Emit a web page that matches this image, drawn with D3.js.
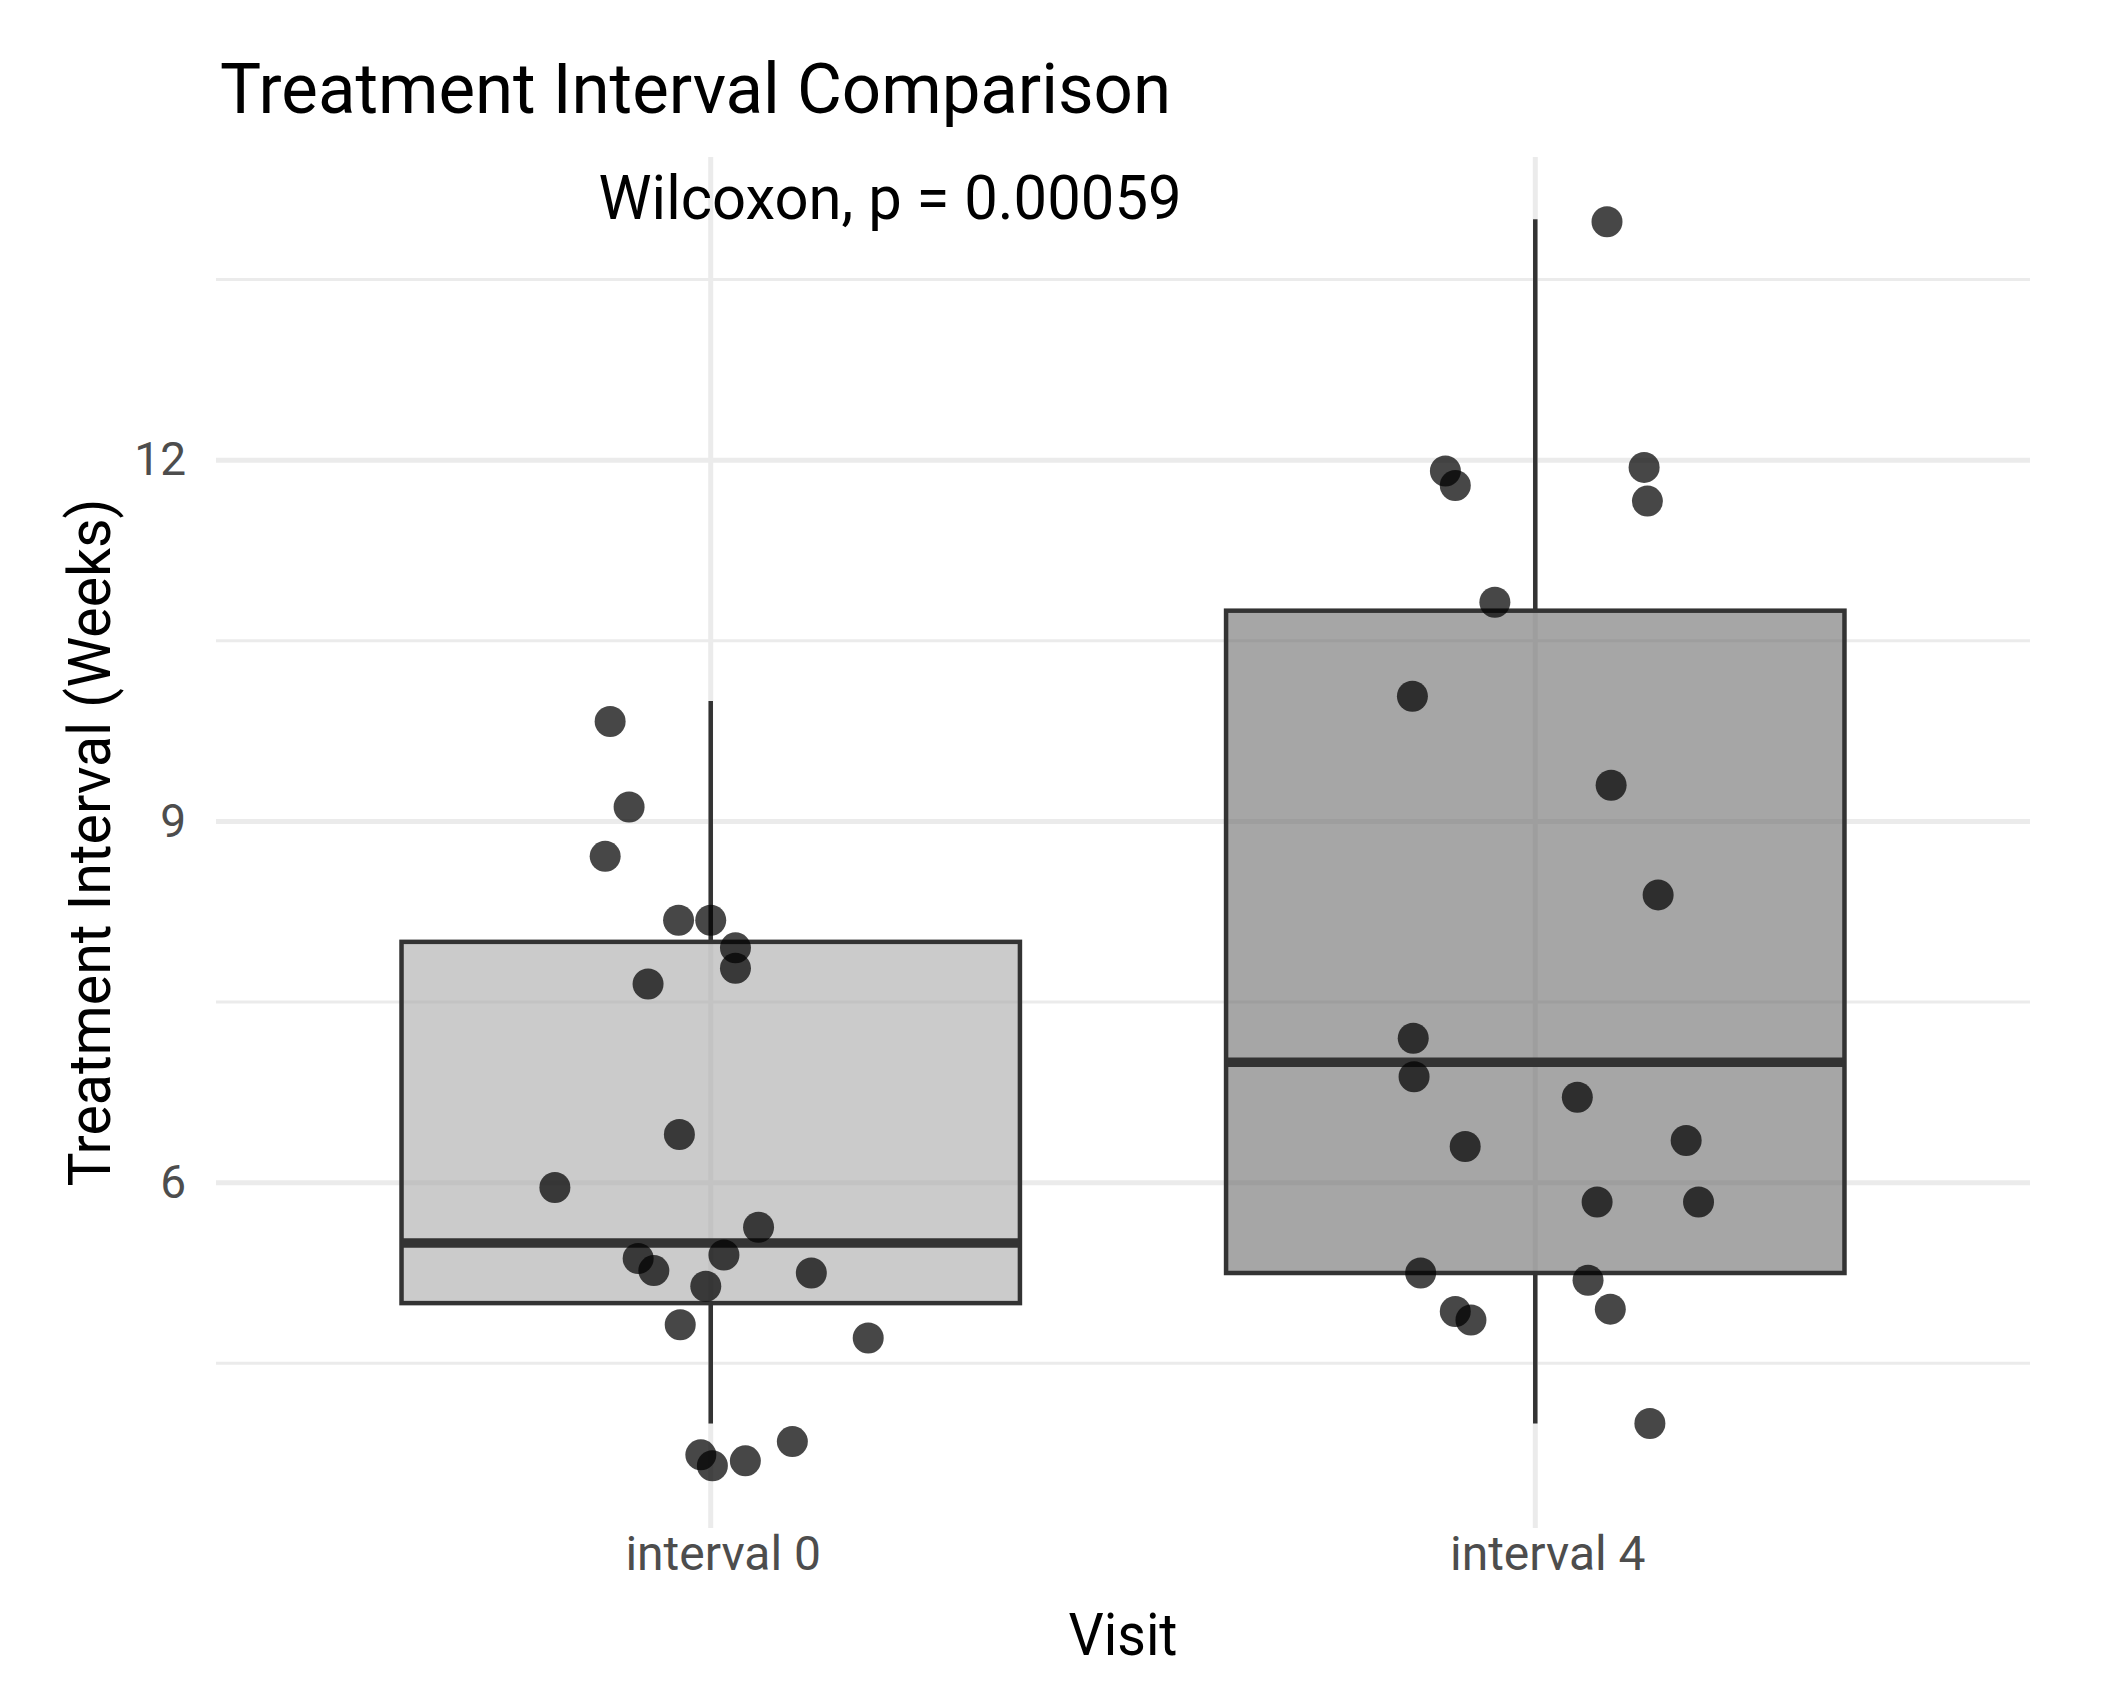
<!DOCTYPE html>
<html>
<head>
<meta charset="utf-8">
<script src="https://cdn.jsdelivr.net/npm/d3@7"></script>
<style>
  body { margin: 0; background: #fff; }
  svg text { font-family: Roboto, "Liberation Sans", sans-serif; }
</style>
</head>
<body>
<div id="chart"></div>
<script>
// groups on the x axis
var groups = ["interval 0", "interval 4"];

// boxplot summaries
var whiskerLow = [4.0, 4.0];
var boxQ1 = [5.0, 5.25];
var boxMedian = [5.5, 7.0];
var boxQ3 = [8.0, 10.75];
var whiskerHigh = [10.0, 14.0];
var boxFill = ["#a8a8a8", "#6b6b6b"];

// jittered observations (value in weeks, horizontal jitter in group units)
var interval0Values = [9.83, 9.12, 8.71, 8.18, 8.18, 7.95, 7.78, 7.65, 6.40, 5.96, 5.63,
                       5.37, 5.27, 5.40, 5.25, 5.14, 4.82, 4.71, 3.85, 3.74, 3.65, 3.69];
var interval0Jitter = [-0.122, -0.099, -0.128, -0.039, 0.000, 0.030, 0.030, -0.076, -0.038, -0.189, 0.058,
                       -0.088, -0.069, 0.016, 0.122, -0.006, -0.037, 0.191, 0.099, -0.012, 0.002, 0.042];
var interval4Values = [13.98, 11.91, 11.79, 11.94, 11.66, 10.82, 10.04, 9.30, 8.39, 7.20, 6.88,
                       6.71, 6.30, 6.35, 5.84, 5.84, 5.25, 5.19, 4.93, 4.86, 4.95, 4.00];
var interval4Jitter = [0.087, -0.109, -0.097, 0.132, 0.136, -0.049, -0.149, 0.092, 0.149, -0.148, -0.147,
                       0.051, -0.085, 0.183, 0.075, 0.198, -0.139, 0.064, -0.097, -0.078, 0.091, 0.139];

var yTicks = [6, 9, 12];
var yMinorTicks = [4.5, 7.5, 10.5, 13.5];

var width = 2104, height = 1692;
var margin = {top: 157, right: 74, bottom: 164, left: 216};

var svg = d3.select("#chart").append("svg")
    .attr("width", width)
    .attr("height", height);

var points = [];
interval0Values.forEach(function(v, i) { points.push({g: 0, v: v, j: interval0Jitter[i]}); });
interval4Values.forEach(function(v, i) { points.push({g: 1, v: v, j: interval4Jitter[i]}); });

var boxes = groups.map(function(g, i) {
    return {g: i, lo: whiskerLow[i], q1: boxQ1[i], med: boxMedian[i], q3: boxQ3[i], hi: whiskerHigh[i]};
});

// ggplot style: discrete x with 0.6 expansion, continuous y with 5% expansion
var x = d3.scaleLinear()
    .domain([0.4, groups.length + 0.6])
    .range([margin.left, width - margin.right]);

var lo = d3.min(points.concat(boxes), function(d) { return d.v !== undefined ? d.v : d.lo; });
var hi = d3.max(points.concat(boxes), function(d) { return d.v !== undefined ? d.v : d.hi; });
var pad = (hi - lo) * 0.05;
var y = d3.scaleLinear()
    .domain([lo - pad, hi + pad])
    .range([height - margin.bottom, margin.top]);

var grid = svg.append("g");
grid.selectAll(".minor")
    .data(yMinorTicks)
    .enter().append("line")
    .attr("x1", x.range()[0]).attr("x2", x.range()[1])
    .attr("y1", function(d) { return y(d); }).attr("y2", function(d) { return y(d); })
    .attr("stroke", "#ebebeb").attr("stroke-width", 3);
grid.selectAll(".major")
    .data(yTicks)
    .enter().append("line")
    .attr("x1", x.range()[0]).attr("x2", x.range()[1])
    .attr("y1", function(d) { return y(d); }).attr("y2", function(d) { return y(d); })
    .attr("stroke", "#ebebeb").attr("stroke-width", 5);
grid.selectAll(".vert")
    .data(groups)
    .enter().append("line")
    .attr("x1", function(d, i) { return x(i + 1); }).attr("x2", function(d, i) { return x(i + 1); })
    .attr("y1", y.range()[0]).attr("y2", y.range()[1])
    .attr("stroke", "#ebebeb").attr("stroke-width", 5);

// boxes
var bw = 0.75 / 2;
var bx = svg.append("g").selectAll("g")
    .data(boxes)
    .enter().append("g");

bx.append("line")
    .attr("x1", function(d) { return x(d.g + 1); }).attr("x2", function(d) { return x(d.g + 1); })
    .attr("y1", function(d) { return y(d.q3); }).attr("y2", function(d) { return y(d.hi); })
    .attr("stroke", "#333").attr("stroke-width", 4.5);
bx.append("line")
    .attr("x1", function(d) { return x(d.g + 1); }).attr("x2", function(d) { return x(d.g + 1); })
    .attr("y1", function(d) { return y(d.q1); }).attr("y2", function(d) { return y(d.lo); })
    .attr("stroke", "#333").attr("stroke-width", 4.5);
bx.append("rect")
    .attr("x", function(d) { return x(d.g + 1 - bw); })
    .attr("width", function(d) { return x(d.g + 1 + bw) - x(d.g + 1 - bw); })
    .attr("y", function(d) { return y(d.q3); })
    .attr("height", function(d) { return y(d.q1) - y(d.q3); })
    .attr("fill", function(d) { return boxFill[d.g]; })
    .attr("fill-opacity", 0.6)
    .attr("stroke", "#333").attr("stroke-width", 4.5);
bx.append("line")
    .attr("x1", function(d) { return x(d.g + 1 - bw); }).attr("x2", function(d) { return x(d.g + 1 + bw); })
    .attr("y1", function(d) { return y(d.med); }).attr("y2", function(d) { return y(d.med); })
    .attr("stroke", "#333").attr("stroke-width", 9.5);

// jittered points
svg.append("g").selectAll("circle")
    .data(points)
    .enter().append("circle")
    .attr("cx", function(d) { return x(d.g + 1 + d.j); })
    .attr("cy", function(d) { return y(d.v); })
    .attr("r", 15.5)
    .attr("fill", "#000")
    .attr("fill-opacity", 0.72);

// axes
var yAxis = svg.append("g")
    .attr("transform", "translate(" + x.range()[0] + ",0)")
    .call(d3.axisLeft(y).tickValues(yTicks).tickSize(0).tickPadding(30));
yAxis.select(".domain").remove();
yAxis.selectAll("text")
    .attr("font-size", 46).attr("fill", "#4d4d4d")
    .style("font-family", "Roboto, 'Liberation Sans', sans-serif");

var xAxis = svg.append("g")
    .attr("transform", "translate(0," + y.range()[0] + ")")
    .call(d3.axisBottom(x).tickValues(groups.map(function(d, i) { return i + 1; }))
        .tickFormat(function(d) { return groups[d - 1]; }).tickSize(0));
xAxis.select(".domain").remove();
xAxis.selectAll("text")
    .attr("dy", null).attr("y", 42).attr("dx", 12)
    .attr("font-size", 48).attr("fill", "#4d4d4d")
    .style("font-family", "Roboto, 'Liberation Sans', sans-serif");

// titles (the source font is a little narrower than Roboto, so widths are fixed)
svg.append("text")
    .attr("x", 220).attr("y", 113)
    .attr("font-size", 71).attr("fill", "#000")
    .attr("textLength", 951).attr("lengthAdjust", "spacingAndGlyphs")
    .text("Treatment Interval Comparison");

svg.append("text")
    .attr("x", x(0.864)).attr("y", 219)
    .attr("font-size", 62).attr("fill", "#000")
    .attr("textLength", 583).attr("lengthAdjust", "spacingAndGlyphs")
    .text("Wilcoxon, p = 0.00059");

svg.append("text")
    .attr("x", (x.range()[0] + x.range()[1]) / 2).attr("y", 1655)
    .attr("text-anchor", "middle")
    .attr("font-size", 60).attr("fill", "#000")
    .attr("textLength", 109).attr("lengthAdjust", "spacingAndGlyphs")
    .text("Visit");

svg.append("text")
    .attr("transform", "translate(110," + (y.range()[0] + y.range()[1]) / 2 + ") rotate(-90)")
    .attr("text-anchor", "middle")
    .attr("font-size", 60).attr("fill", "#000")
    .attr("textLength", 688).attr("lengthAdjust", "spacingAndGlyphs")
    .text("Treatment Interval (Weeks)");
</script>
</body>
</html>
